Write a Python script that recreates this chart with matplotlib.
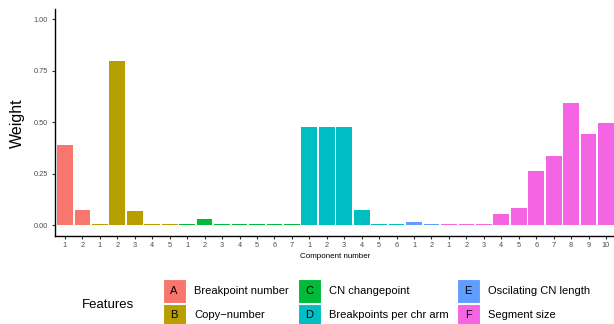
import matplotlib.pyplot as plt
import numpy as np
from matplotlib.patches import Rectangle

# features and their component weights
features = ["Breakpoint number", "Copy\u2212number", "CN changepoint",
            "Breakpoints per chr arm", "Oscilating CN length", "Segment size"]
letters = ["A", "B", "C", "D", "E", "F"]
colors = ["#F8766D", "#B79F00", "#00BA38", "#00BFC4", "#619CFF", "#F564E3"]

w_A = [0.390, 0.074]
w_B = [0.007, 0.797, 0.069, 0.005, 0.005]
w_C = [0.005, 0.031, 0.005, 0.005, 0.005, 0.005, 0.005]
w_D = [0.477, 0.477, 0.477, 0.074, 0.005, 0.005]
w_E = [0.016, 0.005]
w_F = [0.005, 0.005, 0.005, 0.055, 0.084, 0.264, 0.336, 0.593, 0.443, 0.497]
weights = [w_A, w_B, w_C, w_D, w_E, w_F]

vals, cols, labs = [], [], []
for w, c in zip(weights, colors):
    vals += w
    cols += [c] * len(w)
    labs += [str(i + 1) for i in range(len(w))]
x = np.arange(1, len(vals) + 1)

plt.rcParams['font.family'] = ['Liberation Sans', 'DejaVu Sans']

W, H = 614, 324
fig = plt.figure(figsize=(W / 100, H / 100), dpi=100)

def px(x0, y0):
    return x0 / W, 1 - y0 / H

ax = fig.add_axes([54.5 / W, 1 - 235.6 / H, (616.5 - 54.5) / W, (235.6 - 9.0) / H])
ax.bar(x, vals, width=0.9, color=cols, linewidth=0)
ax.set_xlim(0.4, len(vals) + 0.6)
ax.set_ylim(-0.05, 1.05)
ax.set_yticks([0, 0.25, 0.5, 0.75, 1.0])
ax.set_yticklabels(["0.00", "0.25", "0.50", "0.75", "1.00"])
ax.set_xticks(x)
ax.set_xticklabels(labs)
ax.tick_params(axis='both', labelsize=5.3, labelcolor='#4D4D4D', length=2.5,
               width=0.8, color='#333333', pad=2)
for s in ['top', 'right']:
    ax.spines[s].set_visible(False)
for s in ['left', 'bottom']:
    ax.spines[s].set_linewidth(1.0)
ax.set_xlabel("Component number", fontsize=5.8, labelpad=3)
fig.text(17 / W, 1 - 123 / H, "Weight", rotation=90, fontsize=11.5,
         ha='center', va='center')

# legend drawn by hand: coloured keys with letters
fig.text(*px(82, 305), "Features", fontsize=9.5, ha='left', va='center')
key_x = [162.5, 162.5, 297.5, 297.5, 456.5, 456.5]
key_y = [279, 303.5, 279, 303.5, 279, 303.5]
for i in range(6):
    kx, ky = key_x[i], key_y[i]
    fig.add_artist(Rectangle(px(kx, ky + 24), 23 / W, 24 / H, facecolor=colors[i],
                             edgecolor='white', linewidth=0.8, transform=fig.transFigure))
    fig.text(*px(kx + 11.5, ky + 12), letters[i], fontsize=8, ha='center', va='center')
    fig.text(*px(kx + 31.5, ky + 12), features[i], fontsize=8, ha='left', va='center')

fig.savefig("out.png", dpi=100)
